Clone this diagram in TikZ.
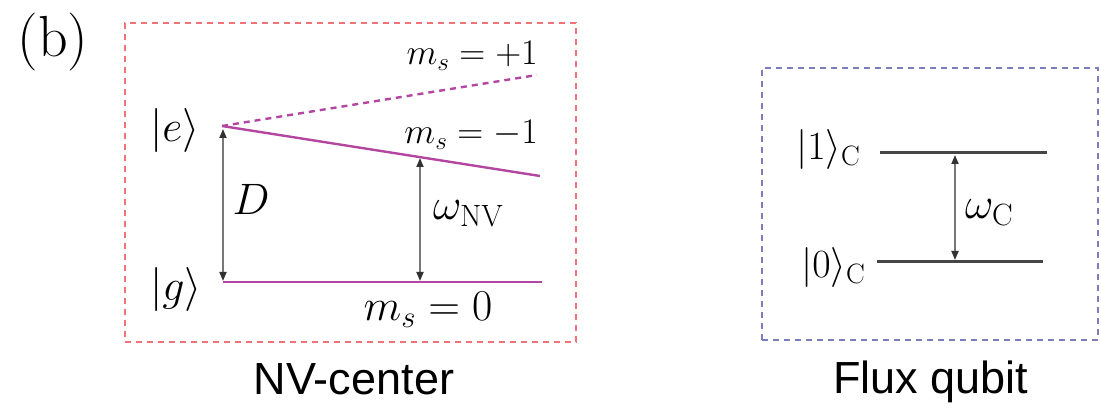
\RequirePackage{fix-cm}
\documentclass[tikz,border=0pt]{standalone}
\usepackage{fontspec}
\newfontfamily\labelsans{Liberation Sans}
\usetikzlibrary{arrows.meta}
\definecolor{nvred}{RGB}{240,115,122}
\definecolor{nvpurple}{RGB}{178,70,160}
\definecolor{fqblue}{RGB}{125,125,185}
\definecolor{arrgray}{RGB}{120,120,120}
\definecolor{tipgray}{RGB}{50,50,50}
\definecolor{lvlgray}{RGB}{70,70,70}
\tikzset{
  boxred/.style={draw=nvred, line width=2.4pt, dash pattern=on 6pt off 5pt},
  boxblue/.style={draw=fqblue, line width=2.4pt, dash pattern=on 6pt off 5pt},
  nvlevel/.style={draw=nvpurple, line width=2.4pt},
  nvdash/.style={draw=nvpurple, line width=2.4pt, dash pattern=on 6pt off 5pt},
  fqlevel/.style={draw=lvlgray, line width=3pt},
  gap/.style={draw=arrgray, line width=1.8pt, {Triangle[length=9pt,width=7pt,color=tipgray]}-{Triangle[length=9pt,width=7pt,color=tipgray]}},
  bigmath/.style={inner sep=0pt, font=\fontsize{44}{50}\selectfont},
  midmath/.style={inner sep=0pt, font=\fontsize{36}{42}\selectfont},
  sanslbl/.style={inner sep=0pt, font=\labelsans\fontsize{45}{50}\selectfont},
}
\begin{document}
\begin{tikzpicture}[x=1pt,y=-1pt]
\useasboundingbox (0,0) rectangle (1101,411);
% panel label
\node[inner sep=0pt, font=\fontsize{58}{62}\selectfont] (panel) at (53,42) {(b)};
% boxes
\node[boxred, minimum width=451pt, minimum height=319pt, inner sep=0pt] (nvbox) at (350.5,182.5) {};
\node[boxblue, minimum width=336pt, minimum height=272pt, inner sep=0pt] (fqbox) at (930,204) {};
% NV levels
\coordinate (e0) at (222,126);
\coordinate (ep) at (537,75);
\coordinate (em) at (540,176);
\coordinate (g0) at (223,282);
\coordinate (g1) at (542,282);
\draw[nvdash] (e0) -- (ep);
\draw[nvlevel] (e0) -- (em);
\draw[nvlevel] (g0) -- (g1);
% kets
\node[bigmath, anchor=base west] (ket-e) at (150,142) {$|e\rangle$};
\node[bigmath, anchor=base west] (ket-g) at (150,301) {$|g\rangle$};
% level labels
\node[midmath, anchor=base east] (mp) at (538,65) {$m_s=+1$};
\node[midmath, anchor=base east] (mm) at (538,144) {$m_s=-1$};
\node[bigmath, anchor=base] (m0) at (428,321) {$m_s=0$};
% gap arrows
\coordinate (dtop) at (223,129);
\coordinate (dbot) at (223,281);
\coordinate (wtop) at (420,158);
\coordinate (wbot) at (420,281);
\draw[gap] (dtop) -- (dbot);
\draw[gap] (wtop) -- (wbot);
\node[bigmath, anchor=center] (D) at (251,199) {$D$};
\node[bigmath, anchor=base west] (wnv) at (433,220) {$\omega_{\mathrm{NV}}$};
% captions
\node[sanslbl, anchor=base] (nvcap) at (354,395) {NV-center};
\node[sanslbl, anchor=base] (fqcap) at (931,394) {Flux qubit};
% flux qubit levels
\coordinate (u0) at (880,153);
\coordinate (u1) at (1047,153);
\coordinate (l0) at (877,262);
\coordinate (l1) at (1043,262);
\draw[fqlevel] (u0) -- (u1);
\draw[fqlevel] (l0) -- (l1);
\node[font=\fontsize{40}{46}\selectfont, inner sep=0pt, anchor=base west] (ket1) at (796,160) {$|1\rangle_{\mathrm{C}}$};
\node[font=\fontsize{40}{46}\selectfont, inner sep=0pt, anchor=base west] (ket0) at (801,278) {$|0\rangle_{\mathrm{C}}$};
\coordinate (ctop) at (955,155);
\coordinate (cbot) at (955,260);
\draw[gap] (ctop) -- (cbot);
\node[bigmath, anchor=base west] (wc) at (965,219) {$\omega_{\mathrm{C}}$};
\end{tikzpicture}
\end{document}
